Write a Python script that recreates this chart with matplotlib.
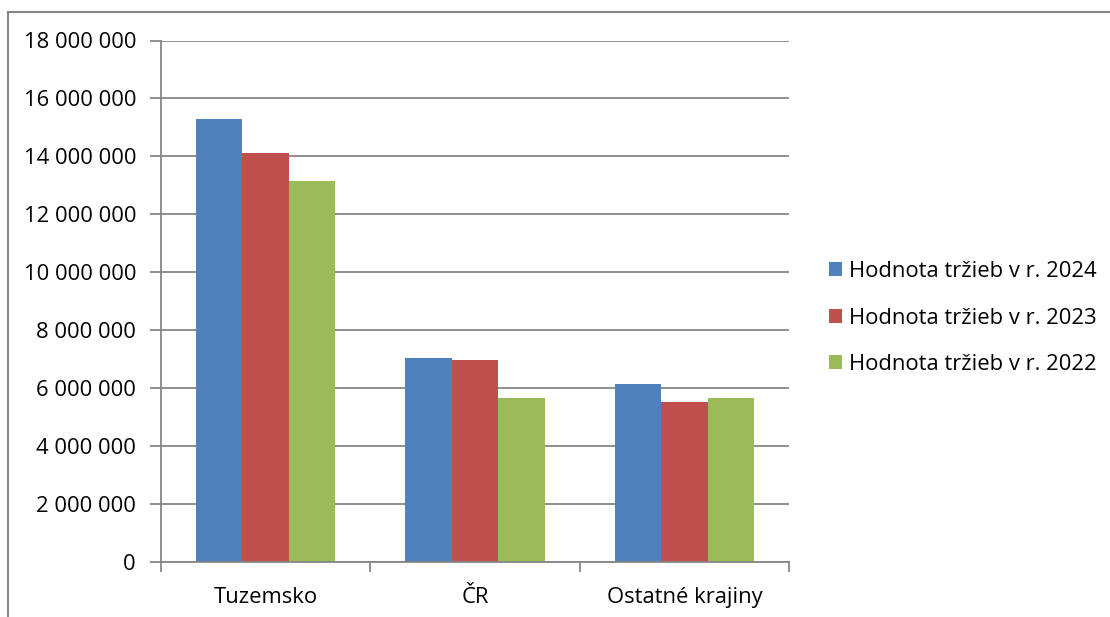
import matplotlib
matplotlib.use("Agg")
import matplotlib.pyplot as plt
from matplotlib.lines import Line2D
from matplotlib.ticker import FuncFormatter
import numpy as np

categories = ["Tuzemsko", "ČR", "Ostatné krajiny"]
series_names = ["Hodnota tržieb v r. 2024", "Hodnota tržieb v r. 2023", "Hodnota tržieb v r. 2022"]
v2024 = [15280000, 7050000, 6140000]
v2023 = [14110000, 6960000, 5520000]
v2022 = [13150000, 5650000, 5670000]
colors = ["#4F81BD", "#C0504D", "#9BBB59"]

plt.rcParams['font.family'] = ['Open Sans', 'DejaVu Sans']
W, H = 1110, 617
fig = plt.figure(figsize=(W / 100, H / 100), dpi=100)
ax = fig.add_axes([161 / W, (H - 562) / H, (789 - 161) / W, (562 - 40.5) / H])

x = np.arange(len(categories))
bw = 1 / 4.5
for i, (vals, name, c) in enumerate(zip([v2024, v2023, v2022], series_names, colors)):
    ax.bar(x + (i - 1) * bw, vals, width=bw, color=c, label=name, zorder=3)

ax.set_xlim(-0.5, len(categories) - 0.5)
ax.set_ylim(0, 18000000)
ax.set_yticks(np.arange(0, 18000001, 2000000))
ax.yaxis.set_major_formatter(FuncFormatter(lambda v, p: f"{int(v):,}".replace(",", " ")))
ax.set_xticks(x)
ax.set_xticklabels(categories)
ax.set_xticks(np.arange(-0.5, len(categories), 1), minor=True)
ax.tick_params(axis='x', which='major', length=0, pad=18, labelsize=15.8)
ax.tick_params(axis='x', which='minor', length=7, color='#868686', width=1.3)
ax.tick_params(axis='y', length=8, color='#868686', width=1.3, labelsize=15.8, pad=10)
ax.grid(axis='y', color='#868686', linewidth=1.3, zorder=0)
for s in ['top', 'right']:
    ax.spines[s].set_visible(False)
for s in ['left', 'bottom']:
    ax.spines[s].set_color('#868686')
    ax.spines[s].set_linewidth(1.3)
    ax.spines[s].set_zorder(4)

leg = fig.legend(loc='center left', bbox_to_anchor=(818 / W, (H - 318) / H), frameon=False,
                 fontsize=15.8, handlelength=0.6, handleheight=0.6, handletextpad=0.3,
                 labelspacing=1.17, borderpad=0)

fig.add_artist(Line2D([8 / W, 1], [1 - 12 / H, 1 - 12 / H], transform=fig.transFigure, color='#868686', linewidth=1.5))
fig.add_artist(Line2D([8 / W, 8 / W], [0, 1 - 12 / H], transform=fig.transFigure, color='#868686', linewidth=1.5))

fig.savefig("out.png", dpi=100, facecolor='white')
